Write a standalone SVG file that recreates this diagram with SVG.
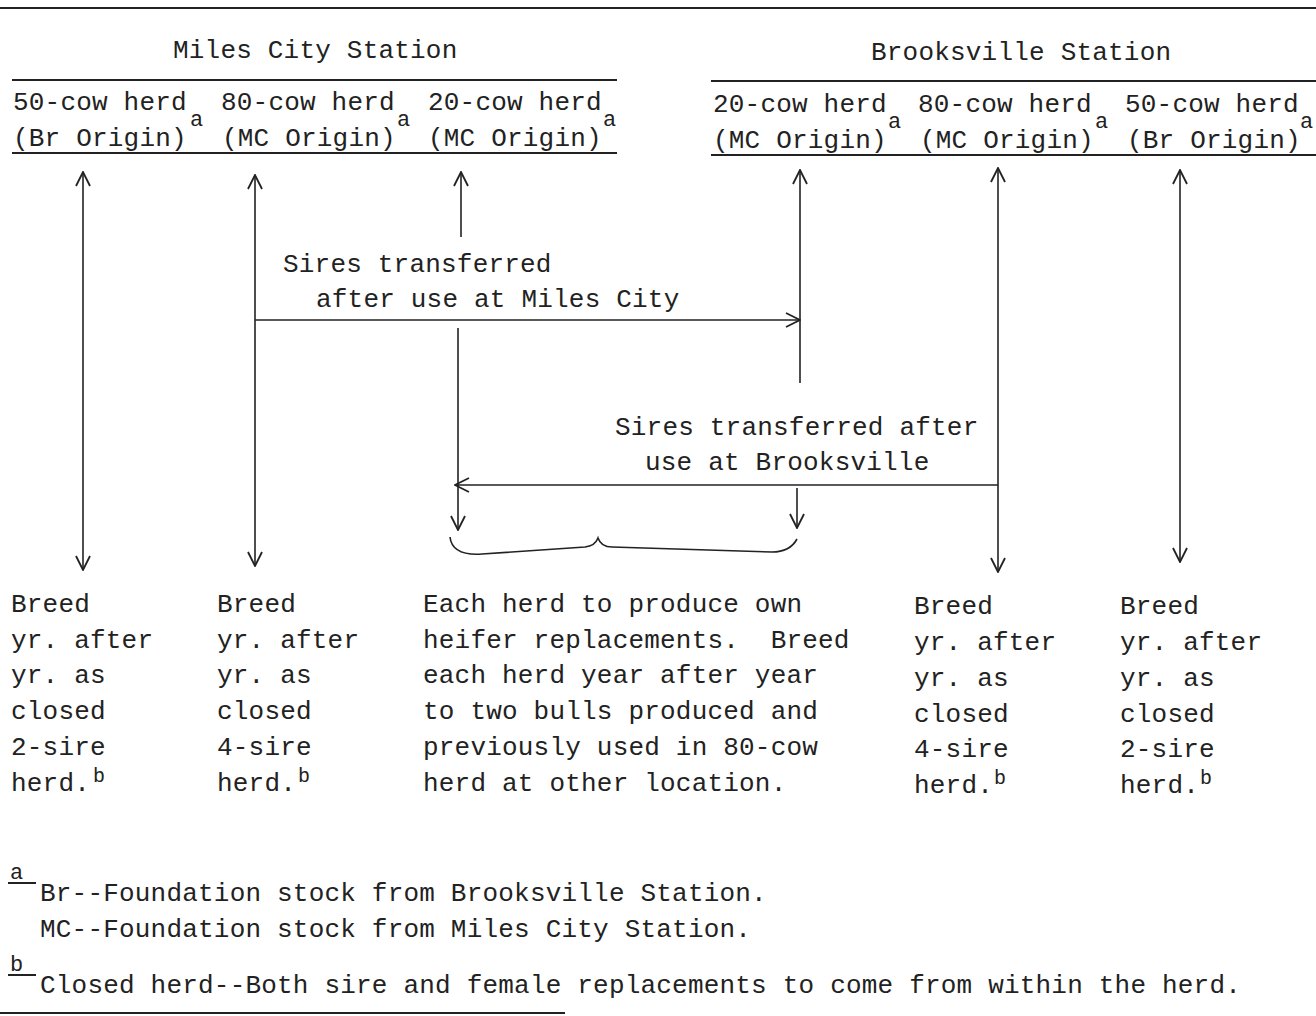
<svg xmlns="http://www.w3.org/2000/svg" width="1316" height="1016" viewBox="0 0 1316 1016">
<style>
text{font-family:"Liberation Mono","DejaVu Sans Mono",monospace;font-size:26px;fill:#222;letter-spacing:0.2px}
.sup{font-size:22px}
.supb{font-size:20px}
.rule{stroke:#222;stroke-width:2;fill:none}
.con{stroke:#222;stroke-width:1.6;fill:none}
</style>
<defs>
<marker id="ah" viewBox="0 0 16 16" refX="15" refY="8" markerWidth="16" markerHeight="16" markerUnits="userSpaceOnUse" orient="auto-start-reverse">
<path d="M1,1 L15,8 L1,15" fill="none" stroke="#222" stroke-width="1.8"/>
</marker>
</defs>
<g id="rules">
<line class="rule" x1="0" y1="8" x2="1316" y2="8"/>
<line class="rule" x1="12" y1="80" x2="617" y2="80"/>
<line class="rule" x1="711" y1="81" x2="1316" y2="81"/>
<line class="rule" x1="12" y1="153" x2="617" y2="153"/>
<line class="rule" x1="711" y1="155" x2="1316" y2="155"/>
<line class="rule" x1="0" y1="1013" x2="565" y2="1013"/>
</g>
<g id="station-mc"><text x="173" y="58">Miles City Station</text></g>
<g id="station-br"><text x="871" y="60">Brooksville Station</text></g>
<g id="mc50"><text x="13" y="110">50-cow herd</text><text x="13" y="146">(Br Origin)</text><text class="sup" x="190" y="126">a</text></g>
<g id="mc80"><text x="221" y="110">80-cow herd</text><text x="222" y="146">(MC Origin)</text><text class="sup" x="397" y="126">a</text></g>
<g id="mc20"><text x="428" y="110">20-cow herd</text><text x="428" y="146">(MC Origin)</text><text class="sup" x="603" y="126">a</text></g>
<g id="br20"><text x="713" y="112">20-cow herd</text><text x="713" y="148">(MC Origin)</text><text class="sup" x="888" y="128">a</text></g>
<g id="br80"><text x="918" y="112">80-cow herd</text><text x="920" y="148">(MC Origin)</text><text class="sup" x="1095" y="128">a</text></g>
<g id="br50"><text x="1125" y="112">50-cow herd</text><text x="1127" y="148">(Br Origin)</text><text class="sup" x="1300" y="128">a</text></g>
<g id="connectors">
<line class="con" x1="83" y1="172" x2="83" y2="570" marker-start="url(#ah)" marker-end="url(#ah)"/>
<line class="con" x1="255" y1="175" x2="255" y2="566" marker-start="url(#ah)" marker-end="url(#ah)"/>
<line class="con" x1="461" y1="172" x2="461" y2="237" marker-start="url(#ah)"/>
<line class="con" x1="458" y1="328" x2="458" y2="530" marker-end="url(#ah)"/>
<line class="con" x1="255" y1="320" x2="800" y2="320" marker-end="url(#ah)"/>
<line class="con" x1="800" y1="170" x2="800" y2="383" marker-start="url(#ah)"/>
<line class="con" x1="797" y1="488" x2="797" y2="528" marker-end="url(#ah)" stroke="#666"/>
<line class="con" x1="998" y1="168" x2="998" y2="572" marker-start="url(#ah)" marker-end="url(#ah)"/>
<line class="con" x1="998" y1="485" x2="455" y2="485" marker-end="url(#ah)"/>
<line class="con" x1="1180" y1="170" x2="1180" y2="562" marker-start="url(#ah)" marker-end="url(#ah)"/>
<path class="con" d="M450,537 Q452,556 482,554 L585,547 Q595,546 598,538 Q601,547 612,547 L772,552 Q790,552 797,539"/>
<text x="283" y="272">Sires transferred</text>
<text x="316" y="307">after use at Miles City</text>
<text x="615" y="435">Sires transferred after</text>
<text x="645" y="470">use at Brooksville</text>
</g>
<g id="out1"><text x="11" y="612">Breed</text><text x="11" y="648">yr. after</text><text x="11" y="683">yr. as</text><text x="11" y="719">closed</text><text x="11" y="755">2-sire</text><text x="11" y="791">herd.</text><text class="supb" x="93" y="782">b</text></g>
<g id="out2"><text x="217" y="612">Breed</text><text x="217" y="648">yr. after</text><text x="217" y="683">yr. as</text><text x="217" y="719">closed</text><text x="217" y="755">4-sire</text><text x="217" y="791">herd.</text><text class="supb" x="298" y="782">b</text></g>
<g id="out3"><text x="423" y="612">Each herd to produce own</text><text x="423" y="648" xml:space="preserve">heifer replacements.  Breed</text><text x="423" y="683">each herd year after year</text><text x="423" y="719">to two bulls produced and</text><text x="423" y="755">previously used in 80-cow</text><text x="423" y="791">herd at other location.</text></g>
<g id="out4"><text x="914" y="614">Breed</text><text x="914" y="650">yr. after</text><text x="914" y="686">yr. as</text><text x="914" y="722">closed</text><text x="914" y="757">4-sire</text><text x="914" y="793">herd.</text><text class="supb" x="994" y="784">b</text></g>
<g id="out5"><text x="1120" y="614">Breed</text><text x="1120" y="650">yr. after</text><text x="1120" y="686">yr. as</text><text x="1120" y="722">closed</text><text x="1120" y="757">2-sire</text><text x="1120" y="793">herd.</text><text class="supb" x="1200" y="784">b</text></g>
<g id="footnotes">
<text class="sup" x="10" y="879">a</text>
<line class="rule" x1="8" y1="883" x2="36" y2="883"/>
<text x="40" y="901">Br--Foundation stock from Brooksville Station.</text>
<text x="40" y="937">MC--Foundation stock from Miles City Station.</text>
<text class="sup" x="10" y="971">b</text>
<line class="rule" x1="8" y1="975" x2="36" y2="975"/>
<text x="40" y="993">Closed herd--Both sire and female replacements to come from within the herd.</text>
</g>
</svg>
